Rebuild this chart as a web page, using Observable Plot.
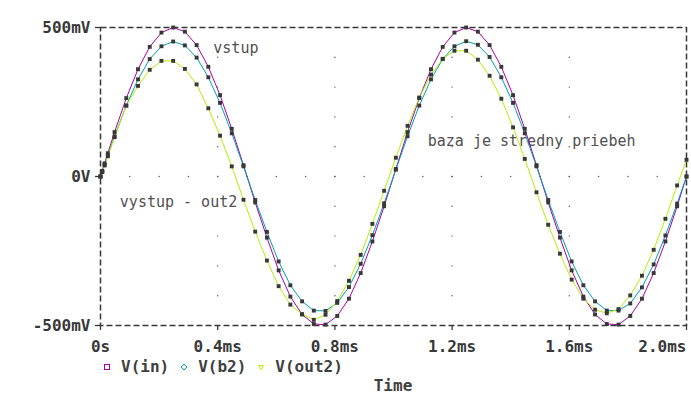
<!DOCTYPE html>
<html>
<head>
<meta charset="utf-8">
<script src="https://cdn.jsdelivr.net/npm/d3@7"></script>
<script src="https://cdn.jsdelivr.net/npm/@observablehq/plot@0.6"></script>
<style>
  body { margin: 0; background: #fff; }
  #wrap { width: 691px; height: 396px; font-family: "DejaVu Sans Mono", monospace; color: #404040; overflow: hidden; }
  #wrap svg.plot { display: block; }
  .legend { display: flex; height: 22px; line-height: 22px; padding-left: 100px; font-size: 16px; font-weight: bold; white-space: pre; }
  .item { display: flex; align-items: center; margin-right: 8px; }
  .item svg { width: 14px; height: 22px; margin-right: 7px; display: block; }
  .xlabel { margin-left: 100px; width: 586px; text-align: center; height: 15px; line-height: 15px; font-size: 16px; font-weight: bold; }
</style>
</head>
<body>
<div id="wrap"></div>
<script>
// ---- data (time in ms, voltage in mV) ----
const time = [0, 0.006, 0.014, 0.025, 0.048,
  0.088, 0.128, 0.168, 0.208, 0.248, 0.288, 0.328, 0.368, 0.408, 0.448, 0.488, 0.528,
  0.568, 0.608, 0.648, 0.688, 0.728, 0.768, 0.808, 0.848, 0.888, 0.928, 0.968, 1.008,
  1.048, 1.088, 1.128, 1.168, 1.208, 1.248, 1.288, 1.328, 1.368, 1.408, 1.448, 1.488,
  1.528, 1.568, 1.608, 1.648, 1.688, 1.728, 1.768, 1.808, 1.848, 1.888, 1.928, 1.968, 2.0];

const vIn = [0, 19, 44, 78, 149,
  263, 360, 435, 483, 500, 486, 441, 368, 273, 160, 38, -87,
  -205, -315, -403, -463, -495, -497, -468, -410, -324, -218, -100, 25,
  149, 263, 360, 435, 483, 500, 486, 441, 368, 273, 160, 38,
  -87, -205, -315, -403, -463, -495, -497, -468, -410, -324, -218, -100, 0];

const vB2 = [0, 17, 40, 71, 135,
  238, 326, 394, 437, 453, 440, 399, 333, 247, 145, 34, -79,
  -186, -285, -365, -419, -450, -451, -424, -371, -293, -197, -90, 23,
  135, 238, 326, 394, 437, 454, 442, 401, 333, 247, 145, 34,
  -79, -186, -285, -365, -419, -450, -450, -426, -372, -295, -198, -91, 0];

const vOut2 = [0, 15, 37, 68, 132,
  238, 304, 358, 388, 388, 361, 309, 229, 137, 34, -78, -185,
  -282, -368, -430, -462, -481, -464, -418, -350, -263, -159, -48, 63,
  170, 265, 342, 395, 422, 422, 392, 338, 261, 165, 59, -53,
  -162, -259, -346, -410, -447, -459, -445, -399, -333, -246, -142, -30, 56];

const seriesNames = ["V(in)", "V(b2)", "V(out2)"];
const seriesColors = ["#a800a8", "#00a0ac", "#b4f000"];
const seriesSymbols = ["square", "diamond", "triangle"];

const xTicks = [0, 0.4, 0.8, 1.2, 1.6, 2.0];
const xTickLabels = ["0s", "0.4ms", "0.8ms", "1.2ms", "1.6ms", "2.0ms"];
const yTicks = [-500, 0, 500];
const yTickLabels = ["-500mV", "0V", "500mV"];

const noteLabels = ["vstup", "vystup - out2", "baza je stredny priebeh"];
const noteT = [0.385, 0.066, 1.117];
const noteV = [429, -85, 120];

// ---- build tables ----
const seriesValues = [vIn, vB2, vOut2];
const rows = [];
seriesNames.forEach((s, k) => time.forEach((t, i) => rows.push({t, v: seriesValues[k][i], s})));
const notes = noteLabels.map((label, i) => ({label, t: noteT[i], v: noteV[i]}));

// dotted grid: along the inner major gridlines, dots at minor steps
const grid = [];
for (const t of xTicks.slice(1, -1)) for (let v = -400; v <= 400; v += 100) grid.push({t, v});
for (let k = 1; k < 20; k++) grid.push({t: k / 10, v: 0});

const xFmt = d => xTickLabels[xTicks.findIndex(x => Math.abs(x - d) < 1e-9)];
const yFmt = d => yTickLabels[yTicks.indexOf(d)];
const ink = "#383838";

const chart = Plot.plot({
  width: 691,
  height: 356,
  marginLeft: 100,
  marginRight: 5,
  marginTop: 27,
  marginBottom: 31,
  style: {fontFamily: "DejaVu Sans Mono", fontSize: "16px", fontWeight: "bold", color: ink, background: "white"},
  x: {domain: [0, 2]},
  y: {domain: [-500, 500]},
  color: {domain: seriesNames, range: seriesColors},
  marks: [
    Plot.dot(grid, {x: "t", y: "v", r: 0.7, fill: "#505050", stroke: null}),
    Plot.frame({stroke: ink, strokeWidth: 1.5, strokeDasharray: "6,3"}),
    Plot.axisY({ticks: yTicks, tickFormat: yFmt, tickSize: 5, tickPadding: 5, label: null, stroke: ink, strokeWidth: 1.3}),
    Plot.axisX({ticks: xTicks.slice(0, -1), tickFormat: xFmt, tickSize: 5, tickPadding: 10, label: null, stroke: ink, strokeWidth: 1.3}),
    Plot.axisX({ticks: xTicks.slice(-1), tickFormat: xFmt, tickSize: 5, tickPadding: 10, textAnchor: "end", label: null, stroke: ink, strokeWidth: 1.3}),
    Plot.text(notes, {x: "t", y: "v", text: "label", textAnchor: "start", lineAnchor: "middle", fontSize: 15, fontWeight: "normal", fill: "#505050"}),
    Plot.line(rows, {x: "t", y: "v", z: "s", stroke: "s", strokeWidth: 1}),
    Plot.dot(rows, {x: "t", y: "v", symbol: "square", r: 2.2, fill: ink, stroke: null})
  ]
});
chart.classList.add("plot");
const wrap = document.getElementById("wrap");
wrap.appendChild(chart);

// legend
const legend = document.createElement("div");
legend.className = "legend";
const markerSvg = {
  square: c => `<rect x="4.5" y="8.5" width="5" height="5" fill="none" stroke="${c}" stroke-width="1"/>`,
  diamond: c => `<polygon points="7,8 10,11 7,14 4,11" fill="none" stroke="${c}" stroke-width="1"/>`,
  triangle: c => `<polygon points="4.5,9.5 9.5,9.5 7,13.5" fill="none" stroke="${c}" stroke-width="1"/>`
};
seriesNames.forEach((name, i) => {
  const item = document.createElement("div");
  item.className = "item";
  item.innerHTML = `<svg viewBox="0 0 14 22">${markerSvg[seriesSymbols[i]](seriesColors[i])}</svg><span>${name}</span>`;
  legend.appendChild(item);
});
wrap.appendChild(legend);

const xl = document.createElement("div");
xl.className = "xlabel";
xl.textContent = "Time";
wrap.appendChild(xl);
</script>
</body>
</html>
